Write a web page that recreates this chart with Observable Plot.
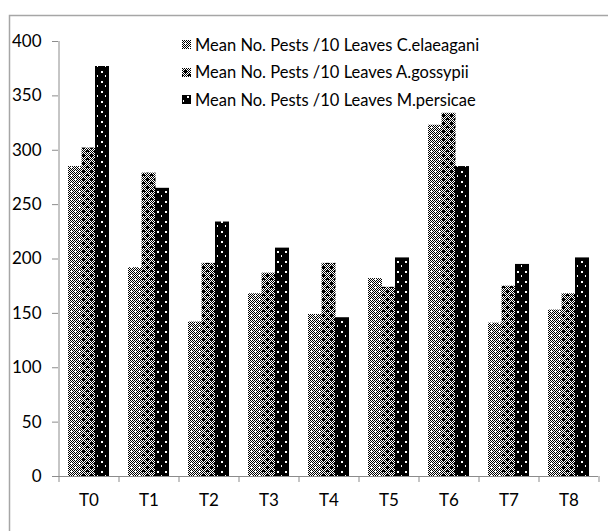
<!DOCTYPE html>
<html><head><meta charset="utf-8">
<script src="https://cdn.jsdelivr.net/npm/d3@7"></script>
<script src="https://cdn.jsdelivr.net/npm/@observablehq/plot@0.6"></script>
<style>
html,body{margin:0;padding:0;background:#fff;}
#wrap{position:relative;width:608px;height:531px;overflow:hidden;font-family:Lato,"Open Sans",sans-serif;}
#legend{position:absolute;left:182px;top:31px;font-size:16.5px;color:#000;}
#legend .row{display:flex;align-items:center;height:27.5px;white-space:nowrap;}
#legend svg{margin-right:4px;display:block;}
</style></head><body>
<svg width="0" height="0" style="position:absolute"><defs id="pats"></defs></svg>
<div id="wrap"><div id="legend"></div></div>
<script>
const treatments = ["T0","T1","T2","T3","T4","T5","T6","T7","T8"];
const seriesNames = [
  "Mean No. Pests /10 Leaves C.elaeagani",
  "Mean No. Pests /10 Leaves A.gossypii",
  "Mean No. Pests /10 Leaves M.persicae"
];
const cElaeagani = [285, 192, 142, 168, 149, 182, 323, 141, 153];
const aGossypii  = [302, 279, 196, 187, 196, 174, 334, 175, 168];
const mPersicae  = [377, 265, 234, 210, 146, 201, 285, 195, 201];
const yTicks = [0, 50, 100, 150, 200, 250, 300, 350, 400];

const values = [cElaeagani, aGossypii, mPersicae];
const rows = [];
seriesNames.forEach((s, i) => treatments.forEach((t, j) => rows.push({treatment: t, series: s, value: values[i][j]})));

// pattern fills (bitmaps, 1 = black)
const bitmaps = {
  pce: ["10101010","01010101","10101010","01000101","10101010","01010101","10101010","01010100"],
  pag: ["10101010","01010101","10111010","01111101","10111010","01010101","10101011","11010111"],
  pmp: ["11111111","11111001","11111001","11111111","11111111","10111111","10111111","11111111","11111111","11111111"]
};
const defs = d3.select("#pats");
for (const [id, bm] of Object.entries(bitmaps)) {
  const h = bm.length, w = bm[0].length;
  const p = defs.append("pattern").attr("id", id).attr("patternUnits", "userSpaceOnUse")
    .attr("width", w).attr("height", h);
  p.append("rect").attr("width", w).attr("height", h).attr("fill", "#fff");
  let path = "";
  bm.forEach((r, y) => [...r].forEach((c, x) => { if (c === "1") path += `M${x},${y}h1v1h-1z`; }));
  p.append("path").attr("d", path).attr("fill", "#000").attr("shape-rendering", "crispEdges");
}
const fills = ["url(#pce)", "url(#pag)", "url(#pmp)"];

const chart = Plot.plot({
  width: 608, height: 531,
  marginLeft: 58, marginRight: 10, marginTop: 41, marginBottom: 55,
  style: {fontFamily: "Lato, 'Open Sans', sans-serif", fontSize: "17px", background: "transparent", color: "#000"},
  x: {domain: treatments, paddingInner: 0.325, paddingOuter: 0.1625, axis: null, label: null},
  y: {domain: [0, 400], axis: null, label: null},
  marks: [
    Plot.frame({stroke: "#a6a6a6", strokeWidth: 1.5, insetLeft: -49, insetTop: -26, insetRight: -20, insetBottom: -80}),
    ...seriesNames.map((s, i) => Plot.barY(rows.filter(r => r.series === s), {
      x: "treatment", y: "value", fill: fills[i], insetLeft: i * 13.5, insetRight: (2 - i) * 13.5
    })),
    Plot.ruleY([0], {stroke: "#8c8c8c"}),
    Plot.ruleX([treatments[0]], {x: d => d, dx: -30, y1: 0, y2: 400, stroke: "#8c8c8c"}),
    Plot.ruleX(treatments, {x: d => d, dx: -30, y1: 0, y2: -5.5, stroke: "#8c8c8c"}),
    Plot.ruleX([treatments[treatments.length - 1]], {x: d => d, dx: 30, y1: 0, y2: -5.5, stroke: "#8c8c8c"}),
    Plot.axisY({ticks: yTicks, tickSize: 6, tickPadding: 11, stroke: "#8c8c8c", fill: "#000", tickFormat: d => String(d), label: null}),
    Plot.axisX({tickSize: 0, tickPadding: 17, fill: "#000", label: null})
  ]
});
document.getElementById("wrap").prepend(chart);

const legend = d3.select("#legend");
seriesNames.forEach((s, i) => {
  const row = legend.append("div").attr("class", "row");
  const sv = row.append("svg").attr("width", 9).attr("height", 9);
  sv.append("rect").attr("width", 9).attr("height", 9).attr("fill", fills[i]);
  row.append("span").text(s);
});
</script>
</body></html>
